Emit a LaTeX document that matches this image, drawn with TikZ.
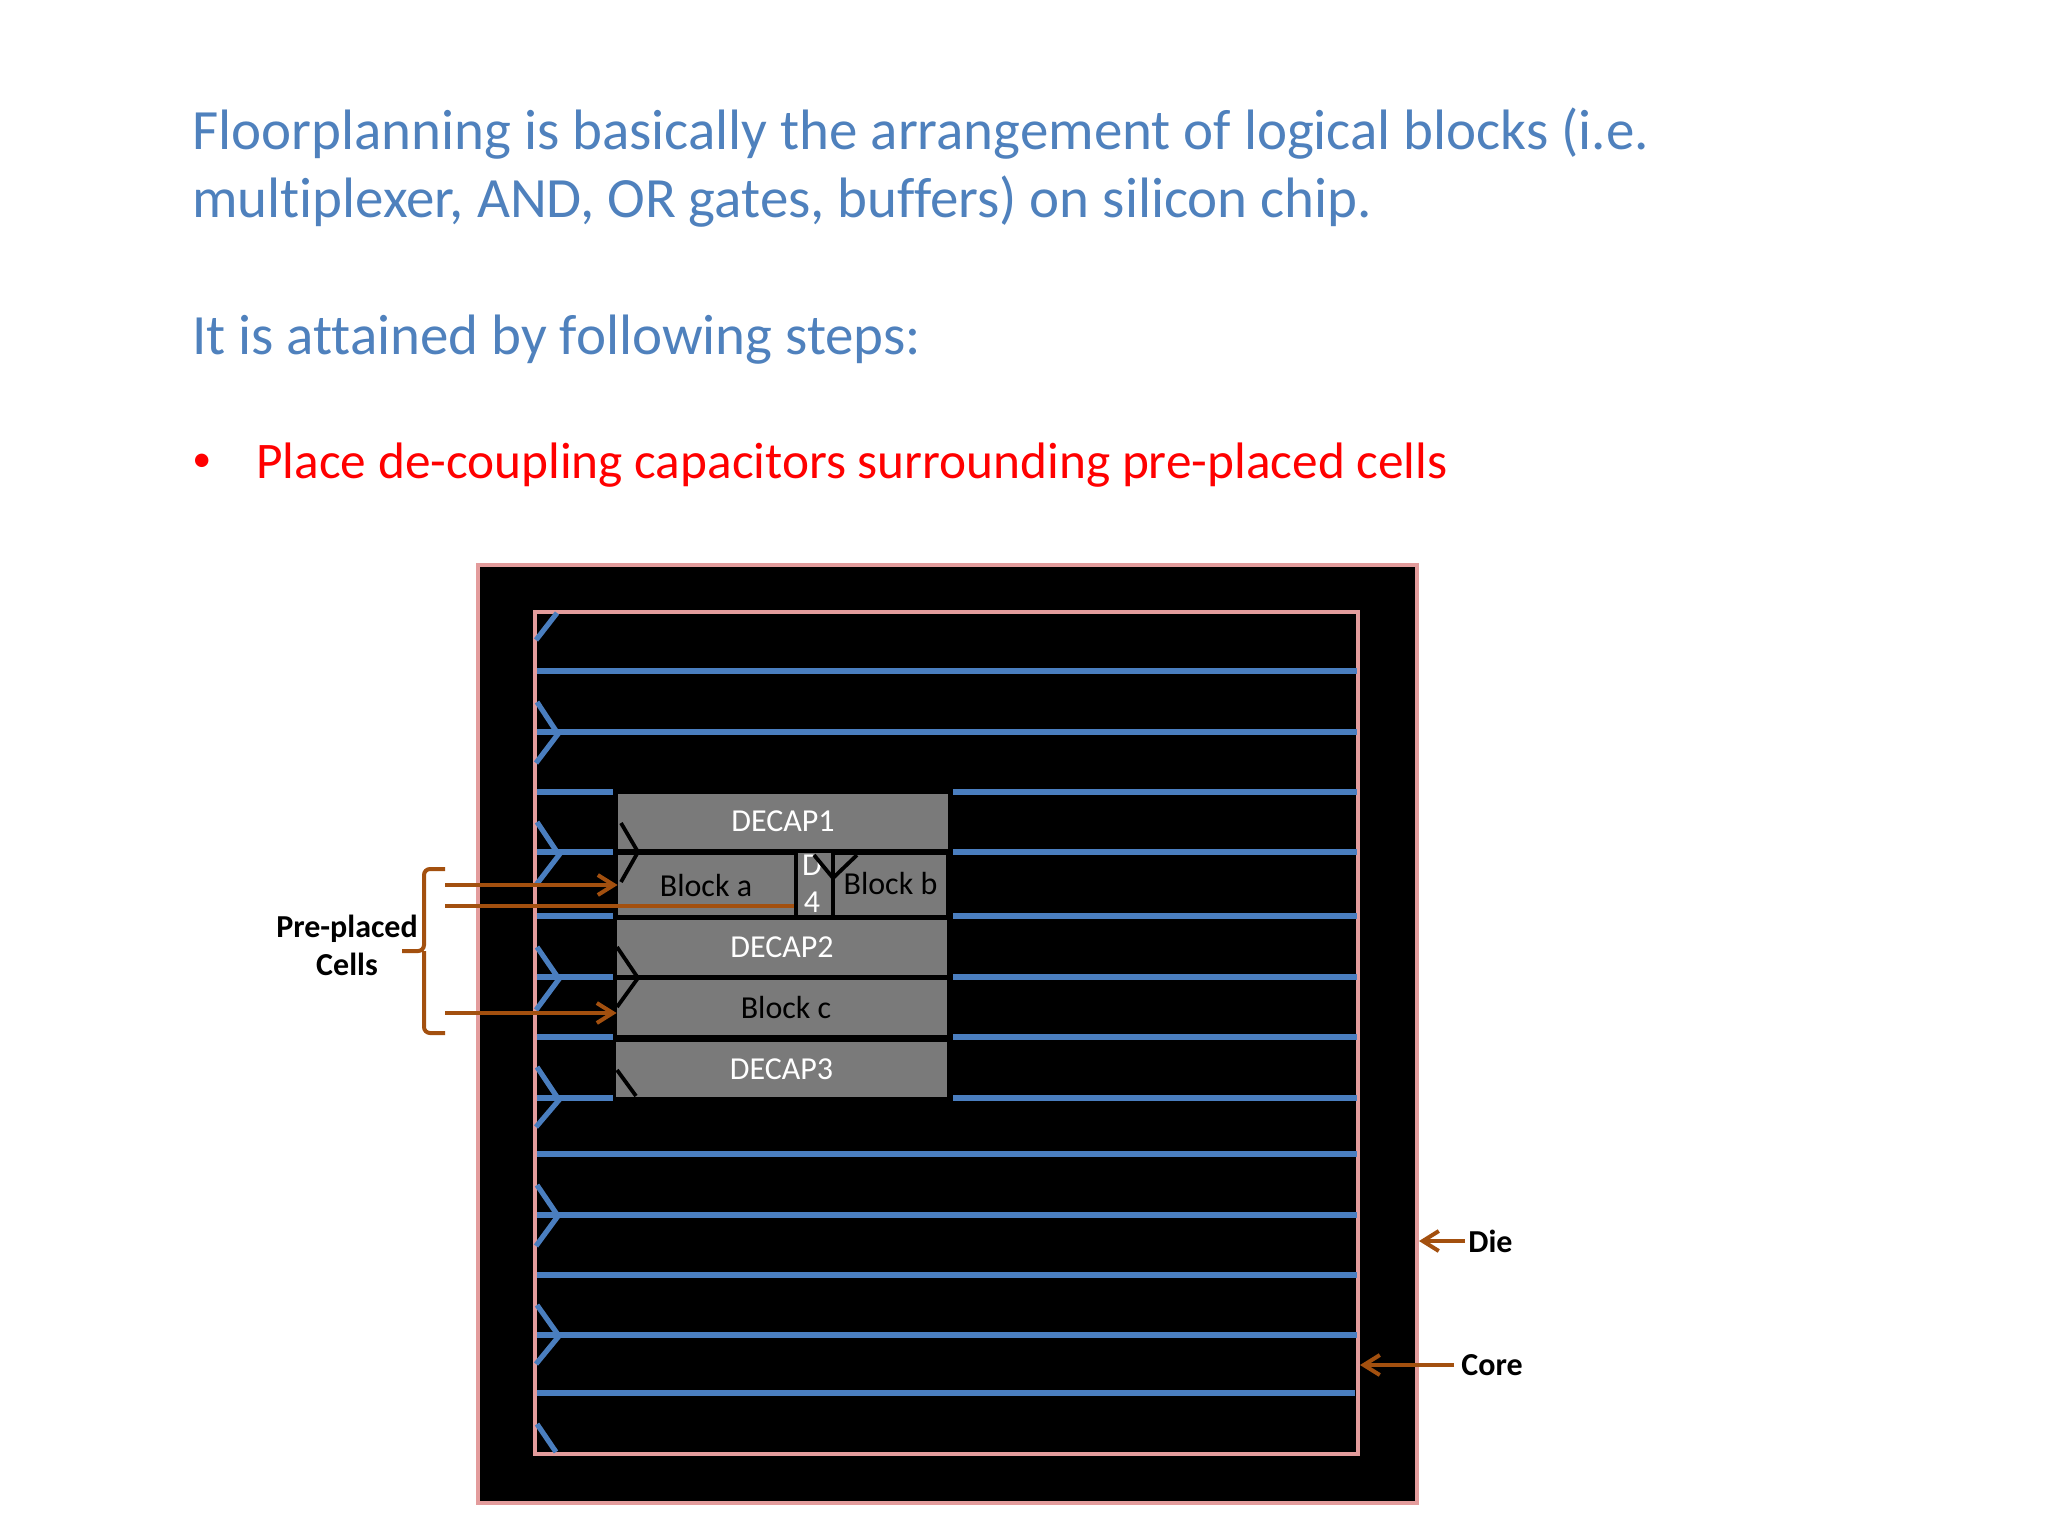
\documentclass[tikz,border=0pt]{standalone}
\usepackage{fontspec}
\setmainfont{Carlito}[Ligatures=NoCommon]
\usetikzlibrary{arrows.meta}
\definecolor{slideblue}{HTML}{4F81BD}
\definecolor{wireblue}{HTML}{4A7EBF}
\definecolor{rimpink}{HTML}{E39C9C}
\definecolor{leadbrown}{HTML}{A3500F}
\tikzset{
  heading/.style={anchor=base west,inner sep=0pt,align=left,text=slideblue,font=\fontsize{28.48}{34}\selectfont},
  redline/.style={anchor=base west,inner sep=0pt,text=red,font=\fontsize{25.65}{34}\selectfont},
  rim/.style={draw=rimpink},
  wire/.style={draw=wireblue,line width=2.6pt},
  rail/.style={draw=black,line width=1.9pt},
  cell/.style={fill=black!52,inner sep=0pt,font=\fontsize{16}{18.5}\selectfont},
  lead/.style={draw=leadbrown,line width=2pt},
  tag/.style={inner sep=0pt,align=center,font=\fontsize{16}{19}\selectfont\bfseries},
  >={Straight Barb[length=8pt,width=10pt]}
}
\begin{document}
\begin{tikzpicture}[x=0.5pt,y=-0.5pt]
\useasboundingbox (0,0) rectangle (2048,1536);
\node[heading] (Intro) at (192,217) {Floorplanning is basically the arrangement of logical blocks (i.e.\\multiplexer, AND, OR gates, buffers) on silicon chip.};
\node[heading] (Steps) at (192,354) {It is attained by following steps:};
\node[redline,font=\fontsize{19}{24}\selectfont] (Dot) at (192,471) {•};
\node[redline] (Place) at (256,478) {Place de-coupling capacitors surrounding pre-placed cells};
\draw[rim,fill=black,line width=2.2pt] (478,565) rectangle (1417,1503);
\draw[rim,line width=1.9pt] (535,612) rectangle (1358,1454);
\draw[wire] (537,671) -- (1357,671);
\draw[wire] (537,732) -- (1357,732);
\draw[wire] (537,792) -- (613,792);
\draw[wire] (953,792) -- (1357,792);
\draw[wire] (537,852) -- (613,852);
\draw[wire] (953,852) -- (1357,852);
\draw[wire] (537,916) -- (613,916);
\draw[wire] (953,916) -- (1357,916);
\draw[wire] (537,977) -- (613,977);
\draw[wire] (953,977) -- (1357,977);
\draw[wire] (537,1037) -- (613,1037);
\draw[wire] (953,1037) -- (1357,1037);
\draw[wire] (537,1098) -- (613,1098);
\draw[wire] (953,1098) -- (1357,1098);
\draw[wire] (537,1154) -- (1357,1154);
\draw[wire] (537,1215) -- (1357,1215);
\draw[wire] (537,1275) -- (1357,1275);
\draw[wire] (537,1335) -- (1357,1335);
\draw[wire] (537,1393) -- (1355,1393);
\draw[wire] (536,640) -- (557,613);
\draw[wire] (537,702) -- (558,734) -- (536,763);
\draw[wire] (537,822) -- (559,855) -- (536,885);
\draw[wire] (537,947) -- (559,979) -- (536,1010);
\draw[wire] (537,1067) -- (559,1100) -- (536,1127);
\draw[wire] (537,1185) -- (558,1216) -- (536,1246);
\draw[wire] (537,1305) -- (559,1336) -- (536,1364);
\draw[wire] (537,1424) -- (556,1452);
\node[cell,text=white,minimum width=165pt,minimum height=27.5pt] (D1) at (783,821) {DECAP1};
\node[cell,minimum width=88pt,minimum height=30pt] (BA) at (706,885) {Block a};
\node[cell,text=white,minimum width=16.5pt,minimum height=31pt,align=center] (D4) at (814.5,884) {D\hspace*{2.5pt}\\4\hspace*{2.5pt}};
\node[cell,minimum width=55.5pt,minimum height=30pt] (BB) at (890.5,885) {\raisebox{1.75pt}{Block b}};
\node[cell,text=white,minimum width=165pt,minimum height=27.5pt] (D2) at (782,947) {DECAP2};
\node[cell,minimum width=165pt,minimum height=27.5pt] (BC) at (782,1007) {\hspace{4pt}Block c};
\node[cell,text=white,minimum width=165.5pt,minimum height=27.5pt] (D3) at (781.5,1069) {DECAP3};
\draw[rail] (621,823) -- (638,852) -- (621,882);
\draw[rail] (617,947) -- (638,978) -- (617,1007);
\draw[rail] (617,1070) -- (636,1096);
\draw[rail] (814,855) -- (833,878) -- (857,855);
\node[tag] (Cells) at (347,945) {Pre-placed\\Cells};
\node[tag,anchor=west] (Die) at (1468,1241) {Die};
\node[tag,anchor=west] (Core) at (1461,1365) {Core};
\coordinate (Ta) at (445,885);
\coordinate (Tb) at (445,906);
\coordinate (Tc) at (445,1013);
\coordinate (DieEdge) at (1419,1241);
\coordinate (CoreEdge) at (1360,1365);
\draw[lead,->] (Ta) -- (Ta -| BA.west);
\draw[lead] (Tb) -- (Tb -| BA.east);
\draw[lead,->] (Tc) -- (Tc -| BC.west);
\draw[lead,->] (Die.west) ++(-3,0) -- (DieEdge);
\draw[lead,->] (Core.west) ++(-7,0) -- (CoreEdge);
\draw[lead,rounded corners=3pt] (445,869) -- (424,869) -- (424,951) -- (402,951);
\draw[lead,rounded corners=3pt] (445,1033) -- (424,1033) -- (424,951);
\end{tikzpicture}
\end{document}
